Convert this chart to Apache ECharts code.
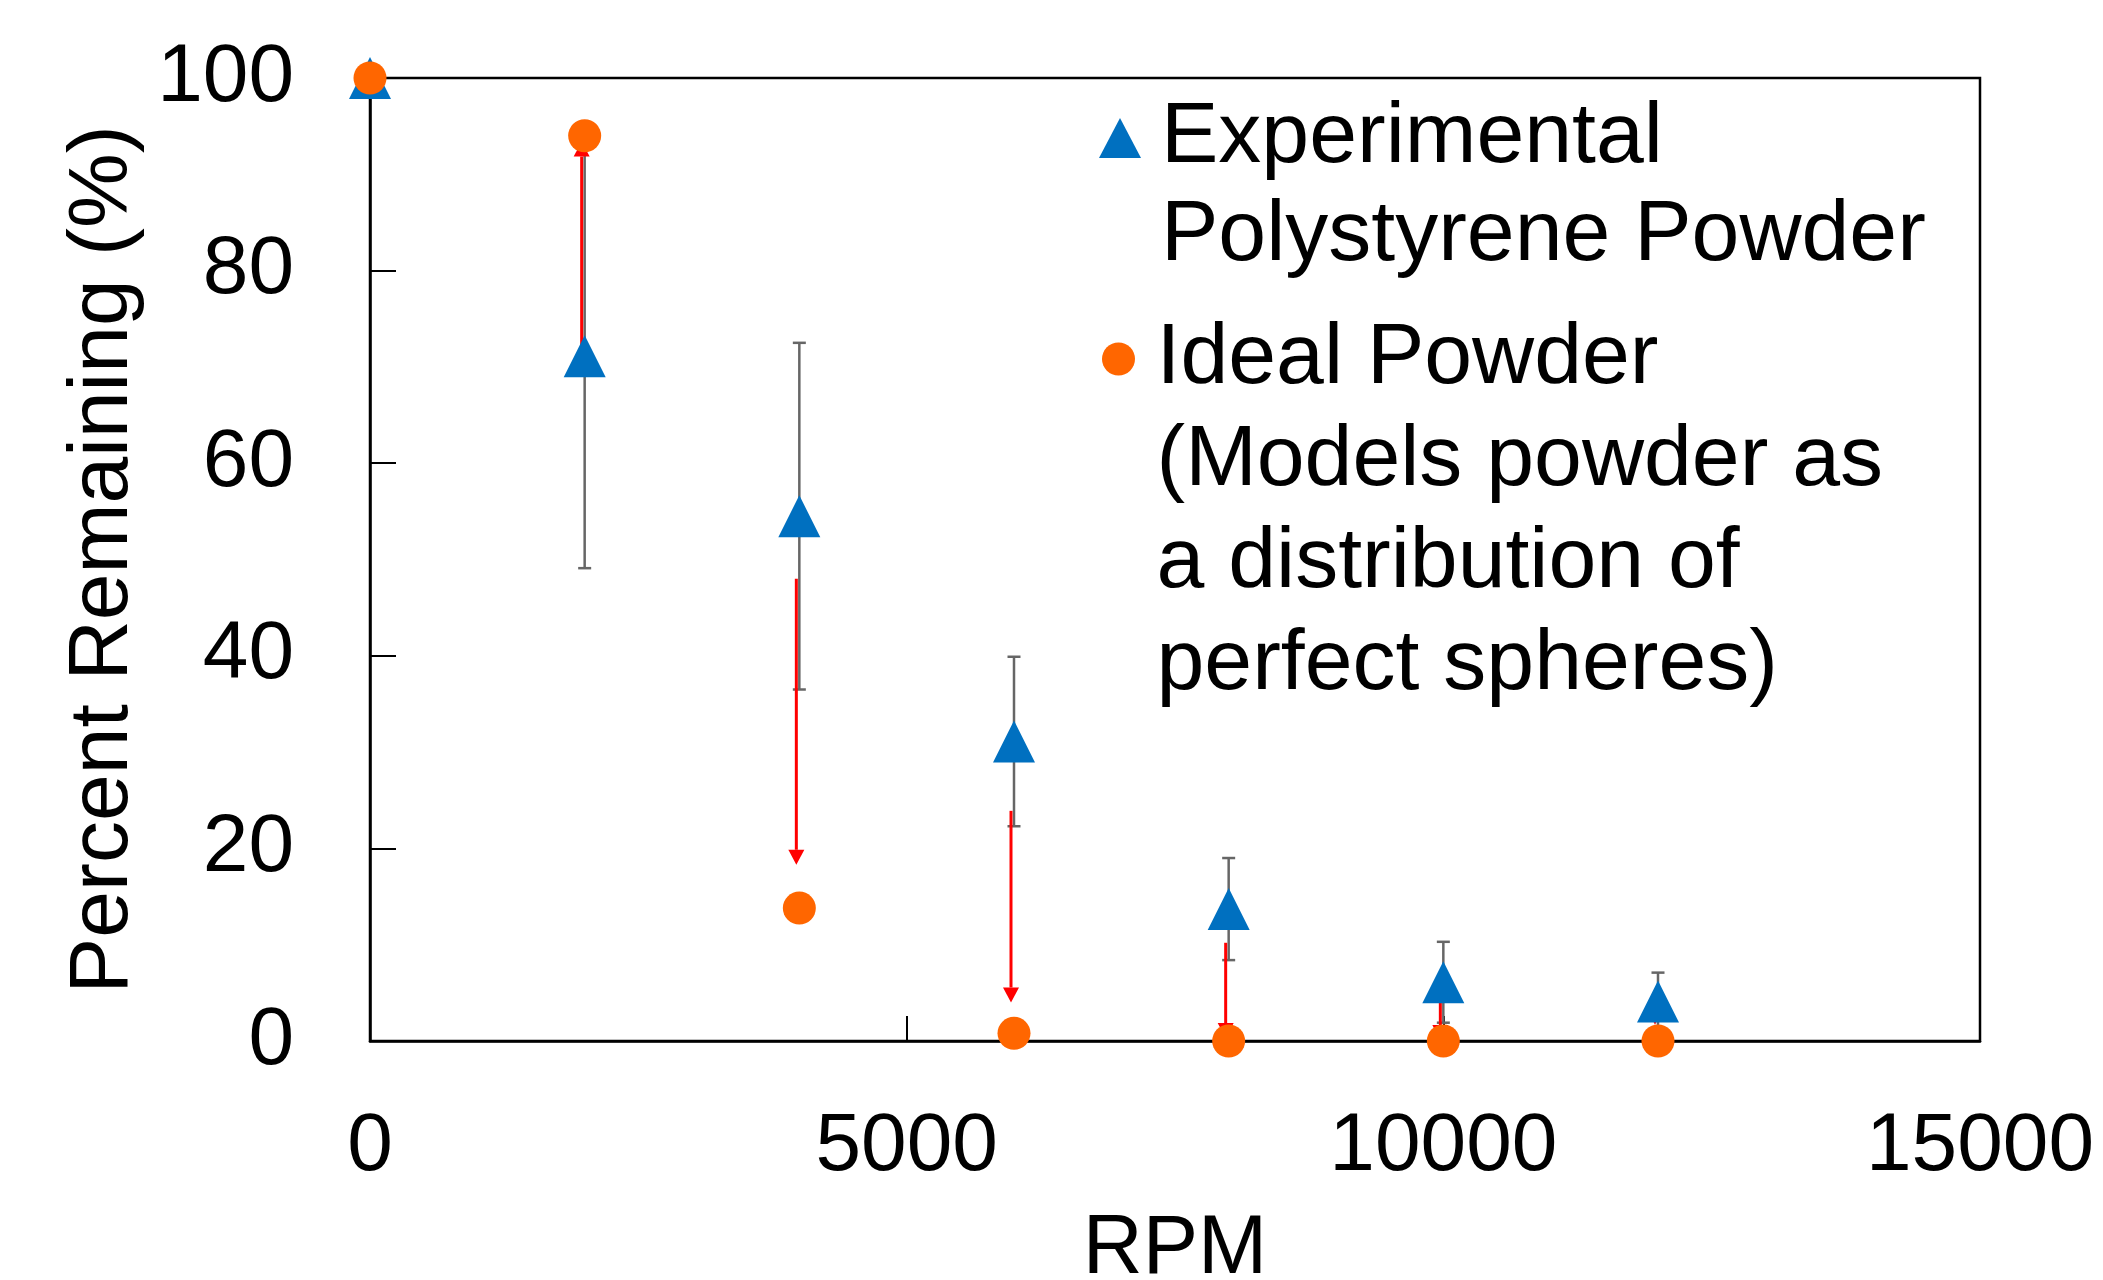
<!DOCTYPE html>
<html>
<head>
<meta charset="utf-8">
<script src="https://cdn.jsdelivr.net/npm/echarts@6/dist/echarts.min.js"></script>
<style>
  html, body { margin: 0; padding: 0; background: #fff; }
  #chart { width: 2103px; height: 1280px; }
</style>
</head>
<body>
<div id="chart"></div>
<script>
// values
const rpm = [0, 2000, 4000, 6000, 8000, 10000, 12000]
const experimental = [100, 71.1, 54.5, 31.1, 13.7, 6.1, 4.1]
const experimentalErr = [0, 22, 18, 8.8, 5.3, 4.2, 3]
const ideal = [100, 94.0, 13.8, 0.8, 0, 0, 0]
// red arrows: start and end value at each rpm (none at 0)
const arrowFrom = [null, 69.5, 48.0, 23.9, 10.2, 6.0, 3.6]
const arrowTo = [null, 93.4, 18.3, 4.0, 0.3, 0.1, 1.7]
const xTicks = [0, 5000, 10000, 15000]
const yTicks = [0, 20, 40, 60, 80, 100]
const legendExp = ['Experimental', 'Polystyrene Powder']
const legendIdeal = ['Ideal Powder', '(Models powder as', 'a distribution of', 'perfect spheres)']

const FONT = 'Liberation Sans, Arial, sans-serif'
const BLUE = '#0070C0'
const ORANGE = '#FF6600'
const expName = legendExp.join(' ')
const idealName = legendIdeal.join(' ')

const expData = rpm.map((x, i) => [x, experimental[i]])
const idealData = rpm.map((x, i) => [x, ideal[i]])
const errData = []
rpm.forEach((x, i) => {
  if (experimentalErr[i] > 0) {
    errData.push([x, experimental[i] + experimentalErr[i], experimental[i] - experimentalErr[i]])
  }
})
const arrowData = []
rpm.forEach((x, i) => {
  if (arrowFrom[i] != null) arrowData.push([x, arrowFrom[i], arrowTo[i]])
})

// legend text is centred on its icon, so pad with empty lines on top
// to get the first line level with the icon
function legendText(lines) {
  return new Array(lines.length - 1).fill('').concat(lines).join('\n')
}

function renderErrorBar(params, api) {
  const x = api.value(0)
  const hi = api.coord([x, api.value(1)])
  const lo = api.coord([x, api.value(2)])
  const cap = 6.5
  const style = { stroke: '#666', lineWidth: 2.5 }
  return {
    type: 'group',
    children: [
      { type: 'line', shape: { x1: hi[0], y1: hi[1], x2: lo[0], y2: lo[1] }, style },
      { type: 'line', shape: { x1: hi[0] - cap, y1: hi[1], x2: hi[0] + cap, y2: hi[1] }, style },
      { type: 'line', shape: { x1: lo[0] - cap, y1: lo[1], x2: lo[0] + cap, y2: lo[1] }, style }
    ]
  }
}

function renderArrow(params, api) {
  const x = api.value(0)
  const p0 = api.coord([x, api.value(1)])
  const p1 = api.coord([x, api.value(2)])
  const ax = p1[0] - 3 // drawn a touch left of the error bar
  const dir = p1[1] > p0[1] ? 1 : -1
  const head = 15
  const half = 8
  const baseY = p1[1] - dir * head
  return {
    type: 'group',
    children: [
      { type: 'line', shape: { x1: ax, y1: p0[1], x2: ax, y2: baseY }, style: { stroke: '#FF0000', lineWidth: 3 } },
      { type: 'polygon', shape: { points: [[ax, p1[1]], [ax - half, baseY], [ax + half, baseY]] }, style: { fill: '#FF0000' } }
    ]
  }
}

const myChart = echarts.init(document.getElementById('chart'))
myChart.setOption({
  animation: false,
  backgroundColor: '#fff',
  textStyle: { fontFamily: FONT, color: '#000' },
  grid: {
    left: 370,
    right: 123,
    top: 78,
    bottom: 239,
    show: true,
    borderColor: '#000',
    borderWidth: 2.5,
    outerBoundsMode: 'none'
  },
  legend: [
    {
      data: [expName],
      icon: 'triangle',
      left: 1099,
      top: -9,
      padding: 0,
      itemWidth: 42,
      itemHeight: 40,
      selectedMode: false,
      formatter: () => legendText(legendExp),
      textStyle: { fontFamily: FONT, fontSize: 86, lineHeight: 98, color: '#000', padding: [0, 0, 0, 15] }
    },
    {
      data: [idealName],
      icon: 'circle',
      left: 1102,
      top: 2,
      padding: 0,
      itemWidth: 66,
      itemHeight: 33,
      selectedMode: false,
      formatter: () => legendText(legendIdeal),
      textStyle: { fontFamily: FONT, fontSize: 86, lineHeight: 102, color: '#000' }
    }
  ],
  xAxis: {
    type: 'value',
    min: xTicks[0],
    max: xTicks[xTicks.length - 1],
    interval: xTicks[1] - xTicks[0],
    name: 'RPM',
    nameLocation: 'middle',
    nameGap: 168,
    nameMoveOverlap: false,
    nameTextStyle: { fontFamily: FONT, fontSize: 83, color: '#000' },
    axisLine: { lineStyle: { color: '#000', width: 2.5 } },
    axisTick: { inside: true, length: 25, lineStyle: { color: '#000', width: 2 } },
    axisLabel: { fontFamily: FONT, fontSize: 82, color: '#000', margin: 65, formatter: v => String(v) },
    splitLine: { show: false }
  },
  yAxis: {
    type: 'value',
    min: yTicks[0],
    max: yTicks[yTicks.length - 1],
    interval: yTicks[1] - yTicks[0],
    name: 'Percent Remaining (%)',
    nameLocation: 'middle',
    nameGap: 224,
    nameMoveOverlap: false,
    nameTextStyle: { fontFamily: FONT, fontSize: 84, color: '#000' },
    axisLine: { show: true, lineStyle: { color: '#000', width: 2.5 } },
    axisTick: { show: true, inside: true, length: 26, lineStyle: { color: '#000', width: 2 } },
    axisLabel: { fontFamily: FONT, fontSize: 82, color: '#000', margin: 76, formatter: v => String(v) },
    splitLine: { show: false }
  },
  series: [
    {
      name: 'errorbars',
      type: 'custom',
      renderItem: renderErrorBar,
      encode: { x: 0, y: [1, 2] },
      data: errData,
      silent: true
    },
    {
      name: expName,
      type: 'scatter',
      symbol: 'triangle',
      symbolSize: 42,
      itemStyle: { color: BLUE, opacity: 1 },
      data: expData
    },
    {
      name: idealName,
      type: 'scatter',
      symbol: 'circle',
      symbolSize: 33,
      itemStyle: { color: ORANGE, opacity: 1 },
      data: idealData
    },
    {
      name: 'arrows',
      type: 'custom',
      renderItem: renderArrow,
      encode: { x: 0, y: [1, 2] },
      data: arrowData,
      silent: true
    }
  ]
})
</script>
</body>
</html>
